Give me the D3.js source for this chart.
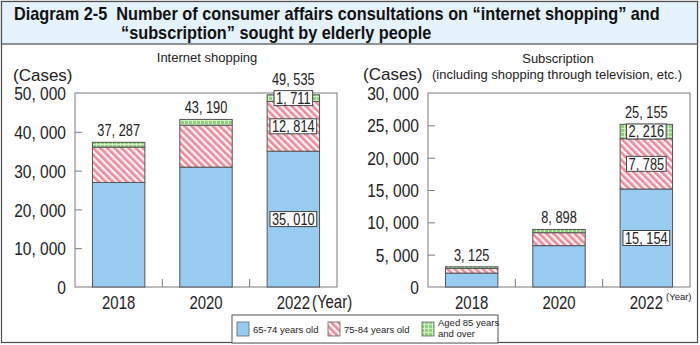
<!DOCTYPE html>
<html>
<head>
<meta charset="utf-8">
<script src="https://cdn.jsdelivr.net/npm/d3@7/dist/d3.min.js"></script>
<style>
  html, body { margin: 0; padding: 0; background: #fff; }
  svg { display: block; }
</style>
</head>
<body>
<svg id="chart" width="700" height="345"></svg>
<script>
// Years shown on both panels
const years = ["2018", "2020", "2022"];

// Internet shopping consultations by age group (cases)
const netAge65to74 = [26950, 30900, 35010];
const netAge75to84 = [9100, 10800, 12814];
const netAge85plus = [1237, 1490, 1711];
const netTotals = [37287, 43190, 49535];

// Subscription consultations by age group (cases)
const subAge65to74 = [2150, 6400, 15154];
const subAge75to84 = [720, 2000, 7785];
const subAge85plus = [255, 498, 2216];
const subTotals = [3125, 8898, 25155];

// Axis ticks
const netTicks = [0, 10000, 20000, 30000, 40000, 50000];
const subTicks = [0, 5000, 10000, 15000, 20000, 25000, 30000];

// Year whose segments get boxed value labels
const boxedYear = "2022";

const ageGroups = ["65-74 years old", "75-84 years old", "Aged 85 years\nand over"];

const FONT = "'Liberation Sans', Arial, sans-serif";
const fmt = v => d3.format(",")(v).replace(/,/g, ", ");

// Squeeze text horizontally to get a narrow face
function narrow(sel, f) {
  sel.each(function () {
    const t = d3.select(this);
    const x = +t.attr("x") || 0, y = +t.attr("y") || 0;
    t.attr("x", 0).attr("y", 0)
      .attr("transform", `translate(${x},${y}) scale(${f},1)`);
  });
  return sel;
}

const svg = d3.select("#chart");
const defs = svg.append("defs");

// Fill patterns for the three age groups
const BLUE = "#97cbef";
const hatch = defs.append("pattern")
  .attr("id", "hatch").attr("patternUnits", "userSpaceOnUse")
  .attr("width", 5).attr("height", 5)
  .attr("patternTransform", "rotate(-45)");
hatch.append("rect").attr("width", 5).attr("height", 5).attr("fill", "#fff3f5");
hatch.append("rect").attr("width", 2.6).attr("height", 5).attr("fill", "#ee8a9b");

const check = defs.append("pattern")
  .attr("id", "check").attr("patternUnits", "userSpaceOnUse")
  .attr("width", 4).attr("height", 4);
check.append("rect").attr("width", 4).attr("height", 4).attr("fill", "#8fd07c");
check.append("rect").attr("width", 4).attr("height", 1).attr("fill", "#d4efc6");
check.append("rect").attr("width", 1).attr("height", 4).attr("fill", "#d4efc6");

const fills = [BLUE, "url(#hatch)", "url(#check)"];

// Outer frame and title band
svg.append("rect").attr("x", 1.5).attr("y", 1.5).attr("width", 696).attr("height", 341)
  .attr("fill", "#fff").attr("stroke", "#4d4d4d").attr("stroke-width", 1.2);
svg.append("rect").attr("x", 1.5).attr("y", 1.5).attr("width", 696).attr("height", 42.5)
  .attr("fill", "#e4f2fc").attr("stroke", "#4d4d4d").attr("stroke-width", 1.2);

// Title in two lines, squeezed to a narrow bold face
const titleLine1 = svg.append("text").attr("x", 14).attr("y", 20)
  .attr("font-family", FONT).attr("font-weight", "bold").attr("font-size", 18)
  .attr("fill", "#111")
  .text("Diagram 2-5\u00a0\u00a0Number of consumer affairs consultations on \u201cinternet shopping\u201d and");
const titleScale = 646 / titleLine1.node().getComputedTextLength();
narrow(titleLine1, titleScale);
const titleLine2 = svg.append("text").attr("x", 121).attr("y", 39)
  .attr("font-family", FONT).attr("font-weight", "bold").attr("font-size", 18)
  .attr("fill", "#111")
  .text("\u201csubscription\u201d sought by elderly people");
narrow(titleLine2, titleScale);

function drawPanel(opt) {
  const { left, right, top, bottom, max, ticks, a, b, c, totals } = opt;
  const x = d3.scaleBand().domain(years).range([left, right])
    .paddingInner(0.4).paddingOuter(0.2);
  const y = d3.scaleLinear().domain([0, max]).range([bottom, top]);
  const g = svg.append("g");

  // plot frame
  g.append("rect").attr("x", left).attr("y", top)
    .attr("width", right - left).attr("height", bottom - top)
    .attr("fill", "none").attr("stroke", "#7a7a7a").attr("stroke-width", 1);

  // y axis: inward ticks with labels
  const yAxis = d3.axisLeft(y).tickValues(ticks).tickSize(-7).tickPadding(9)
    .tickFormat(fmt);
  const ya = g.append("g").attr("transform", `translate(${left},0)`).call(yAxis);
  ya.select(".domain").remove();
  ya.selectAll(".tick line").attr("stroke", "#7a7a7a");
  ya.selectAll(".tick text").attr("font-family", FONT).attr("font-size", 18.5)
    .attr("fill", "#222").attr("dy", "0.36em");
  narrow(ya.selectAll(".tick text"), 0.84);
  ya.selectAll(".tick").filter(d => d === max || d === 0).select("line").remove();

  // category separators on the baseline
  const step = x.step();
  years.slice(1).forEach(yr => {
    const xs = x(yr) - step * x.paddingInner() / 2;
    g.append("line").attr("x1", xs).attr("x2", xs)
      .attr("y1", bottom).attr("y2", bottom - 8).attr("stroke", "#7a7a7a");
  });

  // x axis labels
  const xa = g.append("g").attr("transform", `translate(0,${bottom})`)
    .call(d3.axisBottom(x).tickSize(0).tickPadding(8));
  xa.select(".domain").remove();
  xa.selectAll(".tick text").attr("font-family", FONT).attr("font-size", 18)
    .attr("fill", "#222").attr("dy", "0.75em");
  narrow(xa.selectAll(".tick text"), 0.83);

  // stacked segments
  const rows = years.map((yr, i) => ({ year: yr, a: a[i], b: b[i], c: c[i], total: totals[i] }));
  const stack = d3.stack().keys(["a", "b", "c"])(rows);
  stack.forEach((layer, k) => {
    g.append("g").selectAll("rect").data(layer).join("rect")
      .attr("x", d => x(d.data.year))
      .attr("width", x.bandwidth())
      .attr("y", d => y(d[1]))
      .attr("height", d => y(d[0]) - y(d[1]))
      .attr("fill", fills[k])
      .attr("stroke", "#555").attr("stroke-width", 1);
  });

  // boxed segment values
  const LABEL_SCALE = 0.8;
  const boxTop = {};
  stack.forEach(layer => {
    layer.filter(d => d.data.year === boxedYear).forEach(d => {
      const v = d[1] - d[0];
      const cx = x(d.data.year) + x.bandwidth() / 2;
      const cy = (y(d[0]) + y(d[1])) / 2;
      const t = g.append("text").attr("x", cx).attr("y", cy).attr("dy", "0.36em")
        .attr("text-anchor", "middle").attr("font-family", FONT)
        .attr("font-size", 16).attr("fill", "#222").text(fmt(v));
      const w = t.node().getComputedTextLength() * LABEL_SCALE;
      narrow(t, LABEL_SCALE);
      const bh = 15;
      g.insert("rect", () => t.node())
        .attr("x", cx - w / 2 - 2).attr("y", cy - bh / 2)
        .attr("width", w + 4).attr("height", bh)
        .attr("fill", "#fff").attr("stroke", "#444").attr("stroke-width", 1);
      boxTop[d.data.year] = Math.min(boxTop[d.data.year] ?? Infinity, cy - bh / 2);
    });
  });

  // totals above bars
  const tot = g.append("g").selectAll("text").data(rows).join("text")
    .attr("x", d => x(d.year) + x.bandwidth() / 2)
    .attr("y", d => Math.min(y(d.total), boxTop[d.year] ?? Infinity) - 6)
    .attr("text-anchor", "middle").attr("font-family", FONT)
    .attr("font-size", 16).attr("fill", "#222")
    .text(d => fmt(d.total));
  narrow(tot, LABEL_SCALE);

  return { x, y };
}

drawPanel({ left: 75, right: 337, top: 93, bottom: 287, max: 50000, ticks: netTicks,
  a: netAge65to74, b: netAge75to84, c: netAge85plus, totals: netTotals });
drawPanel({ left: 428, right: 690, top: 93, bottom: 287, max: 30000, ticks: subTicks,
  a: subAge65to74, b: subAge75to84, c: subAge85plus, totals: subTotals });

// Panel headings and unit labels
const txt = (x, y, s, size, anchor) => svg.append("text").attr("x", x).attr("y", y)
  .attr("font-family", FONT).attr("font-size", size).attr("fill", "#222")
  .attr("text-anchor", anchor || "start").text(s);
txt(207, 62, "Internet shopping", 13, "middle");
txt(13, 81, "(Cases)", 17);
txt(558, 63, "Subscription", 13, "middle");
txt(557, 79, "(including shopping through television, etc.)", 13, "middle");
txt(363, 80, "(Cases)", 17);

// Unit labels after the last year
narrow(svg.append("text").attr("x", 312).attr("y", 308).attr("font-family", FONT)
  .attr("font-size", 18).attr("fill", "#222").text("(Year)"), 0.83);
svg.append("text").attr("x", 666).attr("y", 300).attr("font-family", FONT)
  .attr("font-size", 9.5).attr("fill", "#222").text("(Year)");

// Legend
const lg = svg.append("g");
lg.append("rect").attr("x", 232).attr("y", 315).attr("width", 266).attr("height", 28)
  .attr("fill", "#fff").attr("stroke", "#555").attr("stroke-width", 1);
const legendX = [237, 328, 422];
ageGroups.forEach((name, i) => {
  lg.append("rect").attr("x", legendX[i]).attr("y", 322).attr("width", 12).attr("height", 14)
    .attr("fill", fills[i]).attr("stroke", "#666").attr("stroke-width", 0.8);
  const lines = name.split("\n");
  const t = lg.append("text").attr("font-family", FONT).attr("font-size", 9.5)
    .attr("fill", "#222");
  lines.forEach((ln, j) => {
    t.append("tspan").attr("x", legendX[i] + 16)
      .attr("y", lines.length === 1 ? 333 : 326 + j * 11).text(ln);
  });
});
</script>
</body>
</html>
